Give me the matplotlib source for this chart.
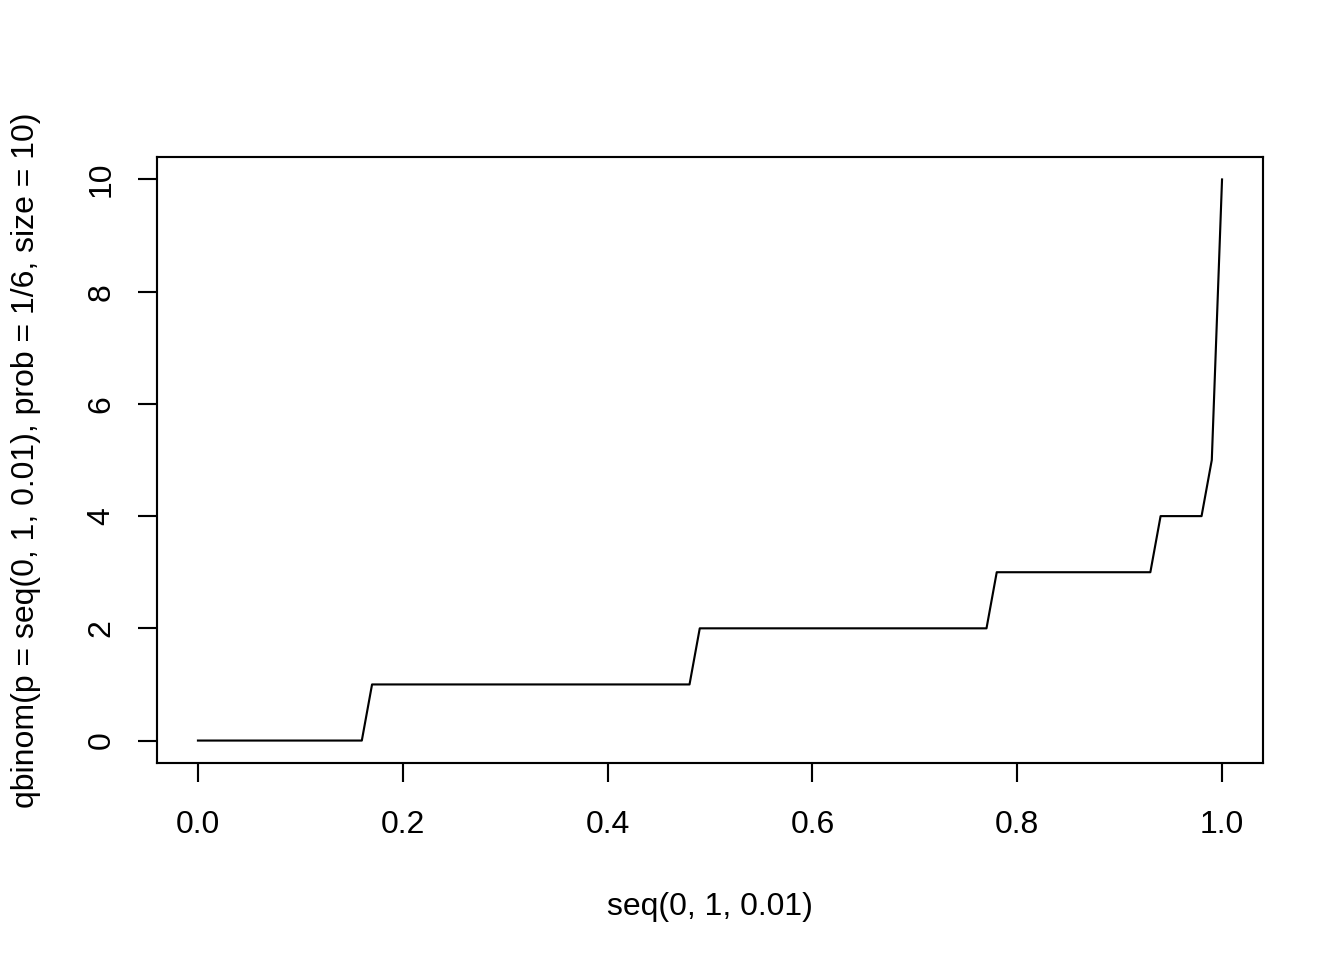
import matplotlib
matplotlib.use('Agg')
import matplotlib.pyplot as plt

plt.rcParams['font.family'] = ['Liberation Sans', 'DejaVu Sans']
plt.rcParams['font.size'] = 12

# corners of the qbinom step curve
p_vals = [0.00, 0.16, 0.17, 0.48, 0.49, 0.77, 0.78, 0.93, 0.94, 0.98, 0.99, 1.00]
q_vals = [0, 0, 1, 1, 2, 2, 3, 3, 4, 4, 5, 10]

x_ticks = [0.0, 0.2, 0.4, 0.6, 0.8, 1.0]
y_ticks = [0, 2, 4, 6, 8, 10]

fig = plt.figure(figsize=(7, 5), dpi=192)
ax = fig.add_axes([157 / 1344, 1 - 763 / 960, (1263 - 157) / 1344, (763 - 157) / 960])

ax.plot(p_vals, q_vals, color='black', linewidth=0.8)

ax.set_xlim(-0.04, 1.04)
ax.set_ylim(-0.4, 10.4)
ax.set_xticks(x_ticks)
ax.set_xticklabels(['%.1f' % t for t in x_ticks])
ax.set_yticks(y_ticks)
ax.set_yticklabels([str(t) for t in y_ticks], rotation=90, va='center')

for s in ax.spines.values():
    s.set_linewidth(0.8)
ax.tick_params(direction='out', length=7.2, width=0.8, labelsize=12)
ax.tick_params(axis='x', pad=10.5)
ax.tick_params(axis='y', pad=8)

ax.set_xlabel('seq(0, 1, 0.01)', labelpad=19.5)
ax.set_ylabel('qbinom(p = seq(0, 1, 0.01), prob = 1/6, size = 10)', labelpad=17)

fig.savefig('out.png', dpi=192)
